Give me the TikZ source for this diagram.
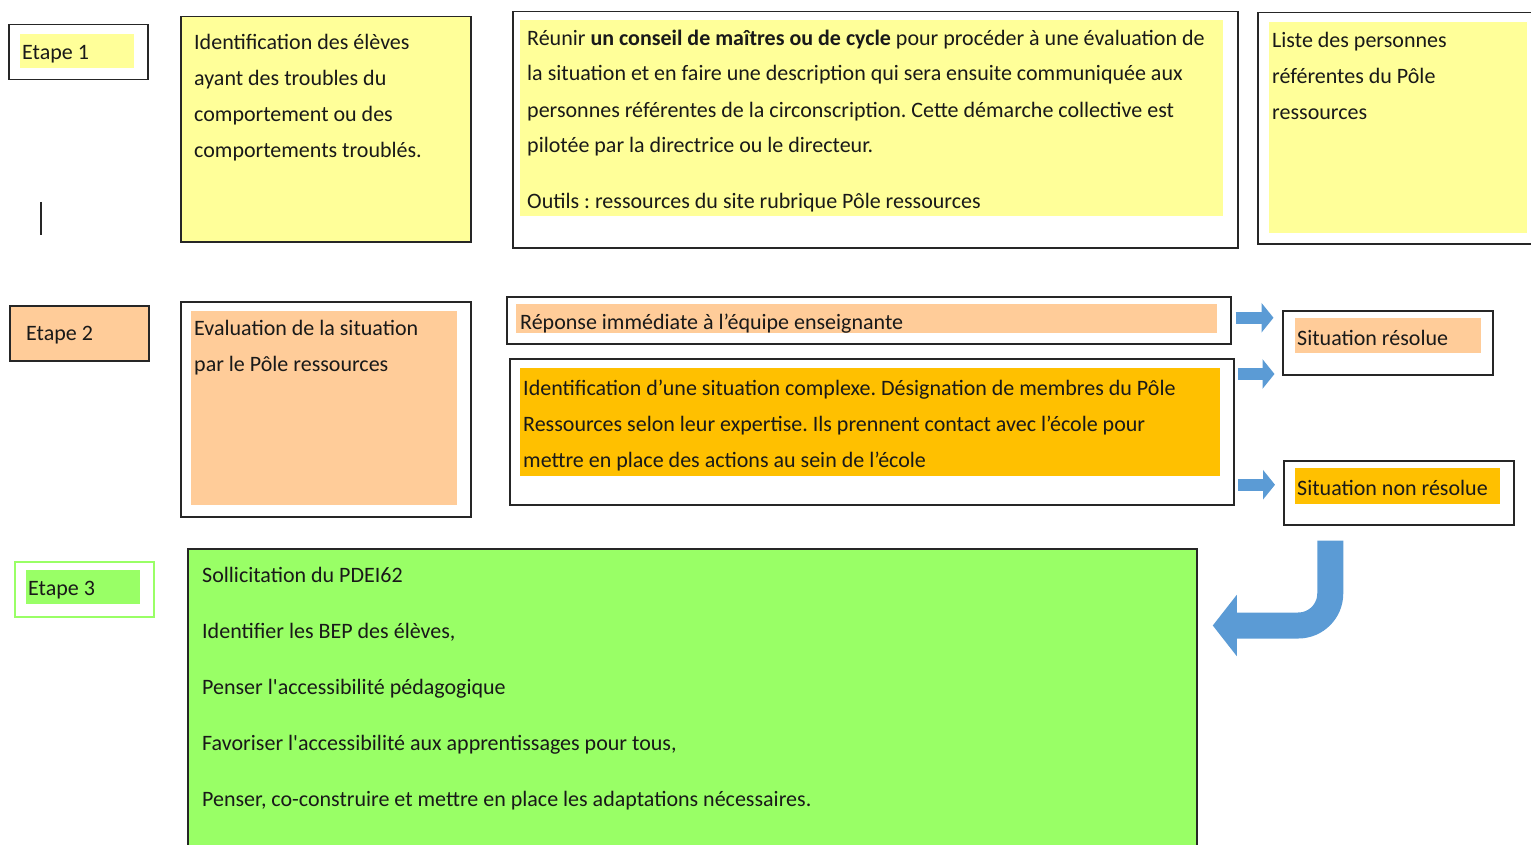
\documentclass[tikz,border=0pt]{standalone}
\usepackage{fontspec}
\setmainfont{Carlito}
\usetikzlibrary{arrows.meta, positioning}

\definecolor{jaune}{HTML}{FFFF99}
\definecolor{peche}{HTML}{FFCC99}
\definecolor{ambre}{HTML}{FFC000}
\definecolor{vert}{HTML}{99FF66}
\definecolor{bleu}{HTML}{5B9BD5}

\begin{document}
\begin{tikzpicture}[x=1pt, y=-1pt,
    cadre/.style={rectangle, draw=black!85, line width=1.5pt, anchor=north west, inner sep=0pt},
    fond/.style={rectangle, anchor=north west, inner sep=0pt},
    texte/.style={anchor=base west, align=left, inner sep=0pt, text=black!90, font=\fontsize{22}{36}\selectfont\frenchspacing},
    fleche/.style={draw=bleu, line width=12pt, -{Triangle[length=12pt, width=29pt]}},
    retour/.style={draw=bleu, line width=26pt, rounded corners=32pt, -{Triangle[length=24pt, width=60pt]}}
]
\useasboundingbox (0,0) rectangle (1531,845);

% Etape 1 (texts placed at the baseline of their last line)
\node[cadre, minimum width=139pt, minimum height=55pt] (e1) at (8,24) {};
\node[fond, fill=jaune, minimum width=114pt, minimum height=34pt] (e1f) at (20,34) {};
\node[texte] (e1t) at (22,60) {Etape 1};
\coordinate (trait) at (41,202);
\draw[line width=1.5pt, black!85] (trait) -- ++(0,33);

\node[cadre, fill=jaune, minimum width=290pt, minimum height=225pt] (a1) at (180,16) {};
\node[texte] (a1t) at (194,158) {Identification des élèves\\ayant des troubles du\\comportement ou des\\comportements troublés.};

\node[cadre, minimum width=725pt, minimum height=236pt] (b1) at (512,11) {};
\node[fond, fill=jaune, minimum width=703pt, minimum height=196pt] (b1f) at (520,20) {};
\node[texte] (b1t) at (527,209) {Réunir \textbf{un conseil de maîtres ou de cycle} pour procéder à une évaluation de\\
la situation et en faire une description qui sera ensuite communiquée aux\\
personnes référentes de la circonscription. Cette démarche collective est\\
pilotée par la directrice ou le directeur.\\[20pt]
Outils : ressources du site rubrique Pôle ressources};

\node[cadre, minimum width=290pt, minimum height=231pt] (c1) at (1257,12) {};
\node[fond, fill=jaune, minimum width=258pt, minimum height=211pt] (c1f) at (1269,22) {};
\node[texte] (c1t) at (1272,120) {Liste des personnes\\référentes du Pôle\\ressources};

% Etape 2
\node[cadre, fill=peche, minimum width=139pt, minimum height=55pt] (e2) at (9,305) {};
\node[texte] (e2t) at (26,340) {Etape 2};

\node[cadre, minimum width=290pt, minimum height=215pt] (a2) at (180,301) {};
\node[fond, fill=peche, minimum width=266pt, minimum height=194pt] (a2f) at (191,311) {};
\node[texte] (a2t) at (194,371) {Evaluation de la situation\\par le Pôle ressources};

\node[cadre, minimum width=724pt, minimum height=47pt] (b2a) at (506,296) {};
\node[fond, fill=peche, minimum width=701pt, minimum height=29pt] (b2af) at (516,304) {};
\node[texte] (b2at) at (520,329) {Réponse immédiate à l’équipe enseignante};

\node[cadre, minimum width=724pt, minimum height=146pt] (b2b) at (509,358) {};
\node[fond, fill=ambre, minimum width=700pt, minimum height=108pt] (b2bf) at (520,368) {};
\node[texte] (b2bt) at (523,467) {Identification d’une situation complexe. Désignation de membres du Pôle\\
Ressources selon leur expertise. Ils prennent contact avec l’école pour\\
mettre en place des actions au sein de l’école};

\node[cadre, minimum width=210pt, minimum height=64pt] (res) at (1282,310) {};
\node[fond, fill=peche, minimum width=186pt, minimum height=35pt] (resf) at (1295,318) {};
\node[texte] (rest) at (1297,345) {Situation résolue};

\node[cadre, minimum width=230pt, minimum height=64pt] (nonres) at (1283,460) {};
\node[fond, fill=ambre, minimum width=205pt, minimum height=36pt] (nonresf) at (1295,468) {};
\node[texte] (nonrest) at (1297,495) {Situation non résolue};

\draw[fleche] ([xshift=4pt, yshift=2.5pt]b2a.east) -- ++(38,0);
\draw[fleche] ([xshift=3pt, yshift=-16pt]b2b.north east) -- ++(37,0);
\draw[fleche] ([xshift=-45pt, yshift=8pt]nonres.west) -- ([xshift=-8pt, yshift=8pt]nonres.west);

% Etape 3
\node[cadre, draw=vert, minimum width=139pt, minimum height=55pt] (e3) at (14,561) {};
\node[fond, fill=vert, minimum width=114pt, minimum height=34pt] (e3f) at (26,570) {};
\node[texte] (e3t) at (28,595) {Etape 3};

\node[cadre, fill=vert, minimum width=1009pt, minimum height=320pt] (a3) at (187,548) {};
\node[texte] (a3t) at (202,806) {Sollicitation du PDEI62\\[20pt]
Identifier les BEP des élèves,\\[20pt]
Penser l\textquotesingle accessibilité pédagogique\\[20pt]
Favoriser l\textquotesingle accessibilité aux apprentissages pour tous,\\[20pt]
Penser, co-construire et mettre en place les adaptations nécessaires.};

\draw[retour] ([xshift=-68.5pt, yshift=-15pt]nonres.south) -- ++(0,85) -- ++(-117.5,0);
\end{tikzpicture}
\end{document}
